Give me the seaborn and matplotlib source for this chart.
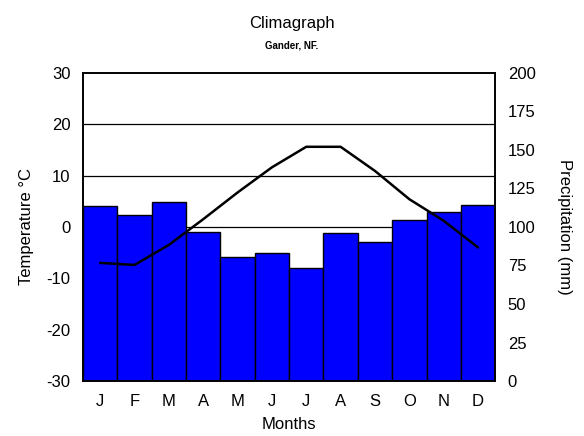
import matplotlib
matplotlib.use("Agg")
import matplotlib.pyplot as plt
import seaborn as sns
import pandas as pd

# climate normals, Gander NF
months = ["J", "F", "M", "A", "M", "J", "J", "A", "S", "O", "N", "D"]
precip_mm = [113.5, 108, 116, 97, 80.5, 83, 73.5, 96, 90.5, 104.5, 110, 114.5]
temp_c = [-7.0, -7.4, -3.5, 1.5, 6.7, 11.6, 15.6, 15.6, 10.9, 5.4, 1.2, -4.0]
temp_ticks = [-30, -20, -10, 0, 10, 20, 30]
precip_ticks = [0, 25, 50, 75, 100, 125, 150, 175, 200]

sns.set_style("white")
plt.rcParams["font.family"] = ["Liberation Sans", "DejaVu Sans"]
plt.rcParams["axes.unicode_minus"] = False
plt.rcParams["text.color"] = "black"
plt.rcParams["axes.labelcolor"] = "black"
plt.rcParams["xtick.color"] = "black"
plt.rcParams["ytick.color"] = "black"

df = pd.DataFrame({"month": range(12), "label": months,
                   "precip": precip_mm, "temp": temp_c})

fig = plt.figure(figsize=(5.84, 4.36), dpi=100)
ax_t = fig.add_axes([0.142, 0.126, 0.706, 0.707])
ax_p = ax_t.twinx()

# bars go on the back axes, line on the front one
ax_t.set_zorder(ax_p.get_zorder() + 1)
ax_t.patch.set_visible(False)

# gridlines at the temperature ticks, drawn behind the bars
for t in temp_ticks[1:-1]:
    ax_p.axhline((t + 30) / 60 * 200, color="black", lw=0.9, zorder=0)

sns.barplot(data=df, x="month", y="precip", ax=ax_p, color="#0000ff",
            saturation=1, width=1.0, edgecolor="black", linewidth=1.0,
            zorder=2)
sns.lineplot(data=df, x="month", y="temp", ax=ax_t, color="black",
             linewidth=1.8)

ax_t.set_xlim(-0.5, 11.5)
ax_t.set_ylim(-30, 30)
ax_p.set_ylim(0, 200)
ax_t.set_yticks(temp_ticks)
ax_p.set_yticks(precip_ticks)
ax_t.set_xticks(range(12))
ax_t.set_xticklabels(months)
ax_p.set_xlabel("")

ax_t.tick_params(axis="both", length=0, labelsize=12, pad=9)
ax_p.tick_params(axis="both", length=0, labelsize=12, pad=9)

ax_t.set_xlabel("Months", fontsize=12, labelpad=6)
ax_t.set_ylabel("Temperature °C", fontsize=12, labelpad=9)
ax_p.set_ylabel("Precipitation (mm)", fontsize=12, rotation=270, labelpad=26)

for ax in (ax_t, ax_p):
    for s in ax.spines.values():
        s.set_visible(True)
        s.set_color("black")
        s.set_linewidth(1.2)

fig.text(0.5, 0.945, "Climagraph", ha="center", va="center", fontsize=12)
fig.text(0.5, 0.895, "Gander, NF.", ha="center", va="center", fontsize=7,
         fontweight="bold")

fig.savefig("out.png", dpi=100)
